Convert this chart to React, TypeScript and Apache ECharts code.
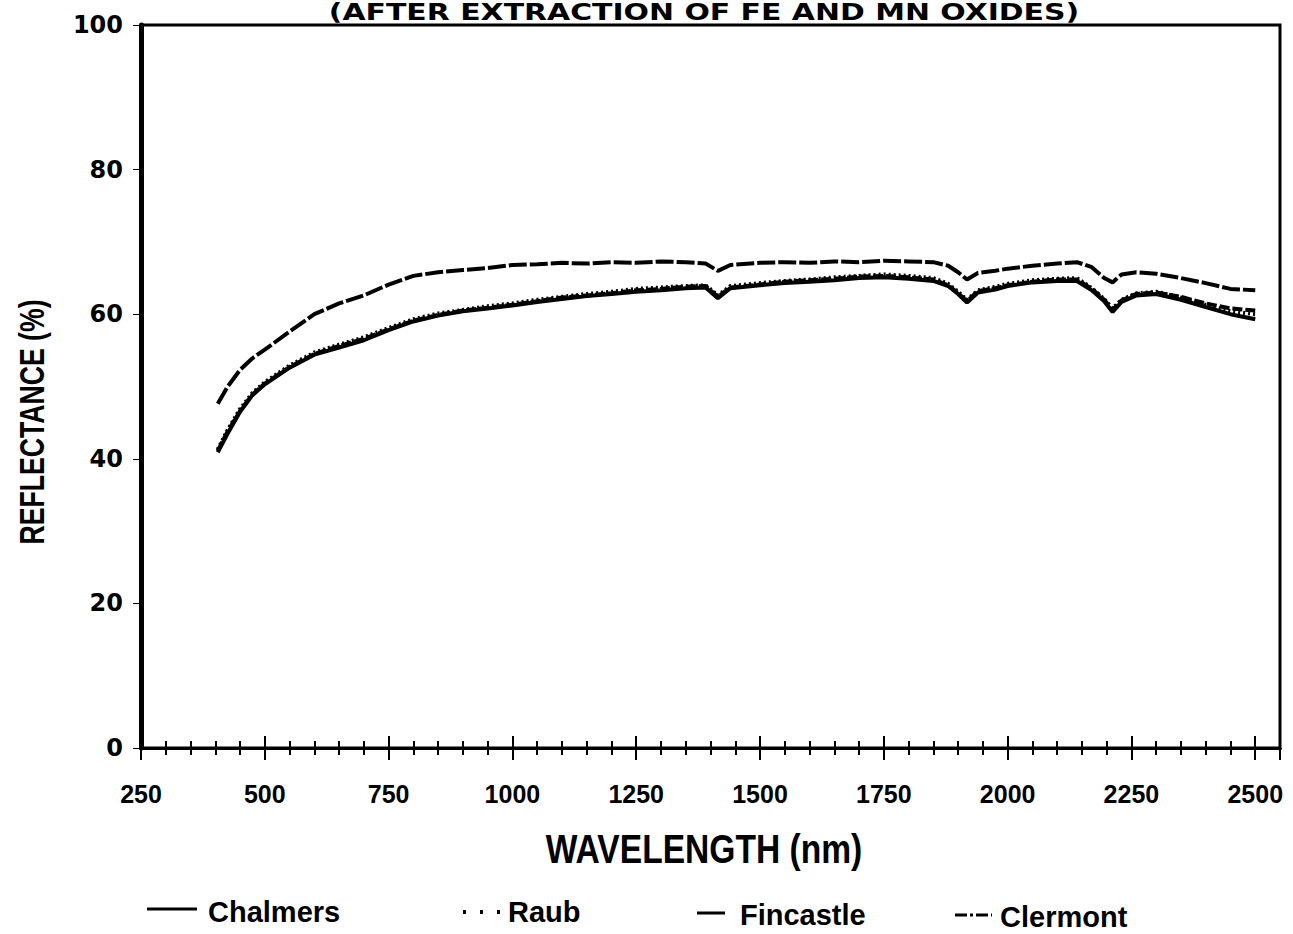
import React, { useEffect, useRef } from "react";
import * as echarts from "echarts";

const wavelengths = [405, 425, 450, 475, 500, 550, 600, 650, 700, 750, 800, 850, 900, 950, 1000, 1050, 1100, 1150, 1200, 1250, 1300, 1350, 1390, 1415, 1440, 1500, 1550, 1600, 1650, 1700, 1750, 1800, 1850, 1880, 1900, 1918, 1940, 1975, 2000, 2050, 2100, 2140, 2170, 2195, 2212, 2230, 2260, 2300, 2350, 2400, 2450, 2500];

const chalmers = [40.9, 43.5, 46.5, 48.8, 50.3, 52.6, 54.4, 55.4, 56.4, 57.8, 59.0, 59.8, 60.4, 60.8, 61.2, 61.7, 62.1, 62.5, 62.8, 63.1, 63.3, 63.6, 63.7, 62.2, 63.6, 64.0, 64.3, 64.5, 64.7, 65.0, 65.1, 64.9, 64.6, 63.9, 62.8, 61.6, 63.0, 63.4, 63.9, 64.4, 64.6, 64.6, 63.3, 61.8, 60.3, 61.7, 62.6, 62.8, 62.0, 61.0, 60.0, 59.3];

const raub = [41.3, 44.0, 46.9, 49.1, 50.6, 52.9, 54.7, 55.8, 56.8, 58.1, 59.3, 60.1, 60.6, 61.1, 61.5, 62.0, 62.4, 62.8, 63.1, 63.5, 63.7, 63.9, 64.0, 62.6, 63.9, 64.3, 64.6, 64.8, 65.1, 65.3, 65.5, 65.3, 65.0, 64.2, 63.1, 62.0, 63.3, 63.8, 64.2, 64.7, 64.9, 65.0, 63.6, 62.1, 60.8, 62.0, 62.9, 63.1, 62.3, 61.3, 60.4, 60.0];

const fincastle = [41.1, 43.8, 46.6, 48.9, 50.4, 52.7, 54.5, 55.6, 56.6, 57.9, 59.1, 59.9, 60.5, 60.9, 61.3, 61.8, 62.3, 62.6, 62.9, 63.3, 63.5, 63.8, 63.9, 62.4, 63.7, 64.1, 64.5, 64.7, 64.9, 65.2, 65.3, 65.1, 64.8, 64.0, 62.9, 61.8, 63.2, 63.6, 64.0, 64.5, 64.8, 64.8, 63.5, 62.0, 60.6, 61.9, 62.8, 63.0, 62.4, 61.5, 60.8, 60.5];

const clermont = [47.6, 50.0, 52.3, 53.9, 55.1, 57.6, 60.0, 61.5, 62.6, 64.1, 65.3, 65.8, 66.1, 66.4, 66.8, 66.9, 67.1, 67.0, 67.2, 67.1, 67.3, 67.2, 67.0, 66.0, 66.8, 67.1, 67.2, 67.1, 67.3, 67.2, 67.4, 67.3, 67.2, 66.7, 65.8, 64.8, 65.7, 66.0, 66.3, 66.7, 67.0, 67.2, 66.5, 65.0, 64.4, 65.5, 65.8, 65.6, 65.0, 64.3, 63.5, 63.3];

const seriesNames = ["Chalmers", "Raub", "Fincastle", "Clermont"];
const xTicks = [250, 500, 750, 1000, 1250, 1500, 1750, 2000, 2250, 2500];
const yTicks = [0, 20, 40, 60, 80, 100];

const titleText = "(AFTER EXTRACTION OF FE AND MN OXIDES)";
const xName = "WAVELENGTH (nm)";
const yName = "REFLECTANCE (%)";

const LIB = "'Liberation Sans', Arial, sans-serif";
const WIDE = "'DejaVu Sans', sans-serif";

function pairs(vals: number[]) {
  return wavelengths.map((w, i) => [w, vals[i]]);
}

export default function App() {
  const ref = useRef<HTMLDivElement>(null);
  useEffect(() => {
    if (!ref.current) return;
    const chart = echarts.init(ref.current, null, { renderer: "svg" });
    const baseX = {
      type: "value",
      min: 250,
      max: 2550,
      interval: 250,
      position: "bottom",
      axisLine: { show: true, onZero: false, lineStyle: { color: "#000", width: 3 } },
      splitLine: { show: false },
      minorSplitLine: { show: false },
    };
    const legendFont = `bold 29px ${LIB}`;
    const option: any = {
      animation: false,
      backgroundColor: "#fff",
      grid: {
        left: 141,
        right: 13,
        top: 25,
        bottom: 186,
        show: true,
        borderColor: "#000",
        borderWidth: 3,
        backgroundColor: "transparent",
      },
      xAxis: [
        {
          ...baseX,
          axisTick: { show: true, inside: false, length: 12, lineStyle: { color: "#000", width: 2 } },
          minorTick: { show: true, splitNumber: 5, length: 7, lineStyle: { color: "#000", width: 2 } },
          axisLabel: {
            show: true,
            color: "#000",
            fontFamily: LIB,
            fontWeight: "bold",
            fontSize: 25,
            margin: 33,
            showMaxLabel: false,
            formatter: (v: number) => (xTicks.includes(v) ? String(v) : ""),
          },
        },
        {
          ...baseX,
          axisTick: { show: true, inside: true, length: 12, lineStyle: { color: "#000", width: 2 } },
          minorTick: { show: true, splitNumber: 5, length: 7, lineStyle: { color: "#000", width: 2 } },
          axisLabel: { show: false },
        },
      ],
      yAxis: {
        type: "value",
        min: 0,
        max: 100,
        interval: 20,
        axisLine: { show: true, lineStyle: { color: "#000", width: 5 } },
        axisTick: { show: true, length: 8, lineStyle: { color: "#000", width: 1 } },
        splitLine: { show: false },
        axisLabel: {
          color: "#000",
          fontFamily: WIDE,
          fontWeight: "bold",
          fontSize: 24,
          margin: 18,
          formatter: (v: number) => (yTicks.includes(v) ? String(v) : ""),
        },
      },
      series: [
        {
          name: seriesNames[0],
          type: "line",
          data: pairs(chalmers),
          showSymbol: false,
          lineStyle: { color: "#000", width: 4, type: "solid" },
        },
        {
          name: seriesNames[1],
          type: "line",
          data: pairs(raub),
          showSymbol: false,
          lineStyle: { color: "#000", width: 4, type: [2, 3] },
        },
        {
          name: seriesNames[2],
          type: "line",
          data: pairs(fincastle),
          showSymbol: false,
          lineStyle: { color: "#000", width: 4, type: [10, 3] },
        },
        {
          name: seriesNames[3],
          type: "line",
          data: pairs(clermont),
          showSymbol: false,
          lineStyle: { color: "#000", width: 4, type: [18, 3] },
        },
      ],
      graphic: [
        {
          type: "text",
          x: 704,
          y: 12,
          scaleX: 1.3,
          style: {
            text: titleText,
            fill: "#000",
            font: `bold 23px ${WIDE}`,
            align: "center",
            verticalAlign: "middle",
          },
        },
        {
          type: "text",
          x: 704,
          y: 849,
          scaleX: 0.84,
          style: { text: xName, fill: "#000", font: `bold 40px ${LIB}`, align: "center", verticalAlign: "middle" },
        },
        {
          type: "text",
          x: 31,
          y: 422,
          rotation: Math.PI / 2,
          scaleX: 0.74,
          style: { text: yName, fill: "#000", font: `bold 36px ${LIB}`, align: "center", verticalAlign: "middle" },
        },
        // legend
        { type: "line", shape: { x1: 147, y1: 909, x2: 197, y2: 909 }, style: { stroke: "#000", lineWidth: 3 } },
        { type: "text", x: 208, y: 912, style: { text: seriesNames[0], fill: "#000", font: legendFont, verticalAlign: "middle" } },
        { type: "line", shape: { x1: 463, y1: 912, x2: 502, y2: 912 }, style: { stroke: "#000", lineWidth: 4, lineDash: [3, 14] } },
        { type: "text", x: 508, y: 912, style: { text: seriesNames[1], fill: "#000", font: legendFont, verticalAlign: "middle" } },
        { type: "line", shape: { x1: 697, y1: 913, x2: 725, y2: 913 }, style: { stroke: "#000", lineWidth: 3 } },
        { type: "text", x: 740, y: 915, style: { text: seriesNames[2], fill: "#000", font: legendFont, verticalAlign: "middle" } },
        { type: "line", shape: { x1: 955, y1: 915, x2: 992, y2: 915 }, style: { stroke: "#000", lineWidth: 3, lineDash: [12, 3, 3, 3] } },
        { type: "text", x: 1000, y: 917, style: { text: seriesNames[3], fill: "#000", font: legendFont, verticalAlign: "middle" } },
      ],
    };
    chart.setOption(option);
    return () => chart.dispose();
  }, []);
  return (
    <div
      ref={ref}
      style={{ position: "fixed", left: 0, top: 0, width: 1293, height: 934, background: "#fff" }}
    />
  );
}
